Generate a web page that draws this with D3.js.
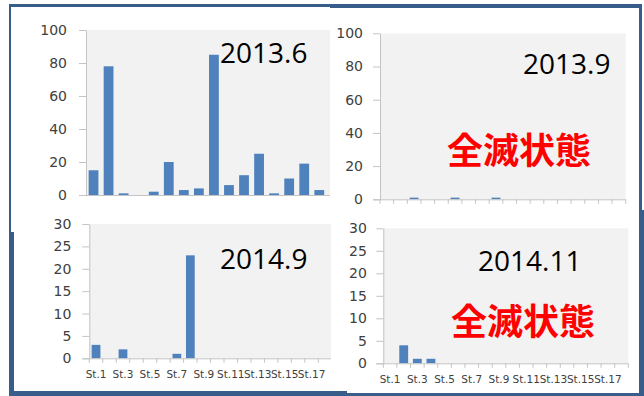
<!DOCTYPE html>
<html>
<head>
<meta charset="utf-8">
<script src="https://cdn.jsdelivr.net/npm/d3@7"></script>
<style>
  html, body { margin: 0; padding: 0; background: #fff; }
  svg { display: block; }
</style>
</head>
<body>
<svg id="chart" width="644" height="396"></svg>
<script>
// Survey stations (categories) and the odd-numbered labels shown on the axis
const stations = d3.range(1, 19).map(i => "St." + i);
const xTickLabels = ["St.1", "St.3", "St.5", "St.7", "St.9", "St.11", "St.13", "St.15", "St.17"];

// Y tick values for the two scales in use
const yTicks100 = [0, 20, 40, 60, 80, 100];
const yTicks30 = [0, 5, 10, 15, 20, 25, 30];

// Counts per station for each survey (null = not shown)
const values2013_6 = [15, 78, 1, 0, 2, 20, 3, 4, 85, 6, 12, 25, 1, 10, 19, 3, null, null];
const values2013_9 = [0, 0, 1, 0, 0, 1, 0, 0, 1, 0, 0, 0, 0, 0, 0, 0, 0, 0];
const values2014_9 = [3, 0, 2, 0, 0, 0, 1, 23, 0, 0, 0, 0, 0, 0, 0, 0, 0, 0];
const values2014_11 = [0, 4, 1, 1, 0, 0, 0, 0, 0, 0, 0, 0, 0, 0, 0, 0, 0, 0];

const surveyTitles = ["2013.6", "2013.9", "2014.9", "2014.11"];
const statusText = "全滅状態";

const BAR = "#4F81BD", PLOT_BG = "#F2F2F2", AXIS = "#C4C4C4", TEXT = "#404040";
const FRAME = "#385D8A";

const svg = d3.select("#chart");

// ---- outer frame -------------------------------------------------------
svg.append("rect").attr("x", 9).attr("y", 4).attr("width", 633).attr("height", 392).attr("fill", FRAME);
svg.append("rect").attr("x", 642).attr("y", 210).attr("width", 2).attr("height", 186).attr("fill", FRAME);
svg.append("rect").attr("x", 11).attr("y", 7).attr("width", 628).attr("height", 384).attr("fill", "#fff");
svg.append("rect").attr("x", 11).attr("y", 232).attr("width", 3).attr("height", 159).attr("fill", FRAME);
svg.append("rect").attr("x", 330).attr("y", 7).attr("width", 309).attr("height", 1).attr("fill", FRAME);
svg.append("rect").attr("x", 347).attr("y", 391).attr("width", 292).attr("height", 2).attr("fill", "#fff");

// ---- panel layout ------------------------------------------------------
const panels = [
  { title: surveyTitles[0], values: values2013_6, yMax: 100, yTicks: yTicks100,
    left: 86, right: 356.9, top: 30, bottom: 195, clip: [11, 7, 319, 225], pad: 12,
    xLabels: false, xMarks: false, titleX: 220, titleY: 63, status: null },
  { title: surveyTitles[1], values: values2013_9, yMax: 100, yTicks: yTicks100,
    left: 380, right: 625.7, top: 33.3, bottom: 199.3, clip: [330, 8, 309, 207], pad: 10,
    xLabels: false, xMarks: true, titleX: 523, titleY: 74, status: [519, 164] },
  { title: surveyTitles[2], values: values2014_9, yMax: 30, yTicks: yTicks30,
    left: 89.3, right: 331.8, top: 224, bottom: 358.3, clip: [14, 212, 317, 179], pad: 11,
    xLabels: true, xMarks: true, titleX: 220, titleY: 269, status: null },
  { title: surveyTitles[3], values: values2014_11, yMax: 30, yTicks: yTicks30,
    left: 383.3, right: 628.3, top: 228.3, bottom: 363.3, clip: [331, 212, 308, 181], pad: 9.5,
    xLabels: true, xMarks: true, titleX: 478, titleY: 271, status: [523, 335] }
];

const defs = svg.append("defs");

panels.forEach((p, i) => {
  defs.append("clipPath").attr("id", "clip" + i)
    .append("rect").attr("x", p.clip[0]).attr("y", p.clip[1])
    .attr("width", p.clip[2]).attr("height", p.clip[3]);

  const g = svg.append("g").attr("clip-path", `url(#clip${i})`);

  const x = d3.scaleBand().domain(stations).range([p.left, p.right])
    .paddingInner(0.35).paddingOuter(0.175);
  const y = d3.scaleLinear().domain([0, p.yMax]).range([p.bottom, p.top]);

  // plot area
  g.append("rect").attr("x", p.left).attr("y", p.top)
    .attr("width", p.right - p.left).attr("height", p.bottom - p.top)
    .attr("fill", PLOT_BG);

  // bars
  const rows = stations.map((s, k) => ({ s, v: p.values[k] })).filter(d => d.v != null && d.v > 0);
  g.selectAll("rect.bar").data(rows).join("rect").attr("class", "bar")
    .attr("x", d => x(d.s)).attr("width", x.bandwidth())
    .attr("y", d => y(d.v)).attr("height", d => y(0) - y(d.v))
    .attr("fill", BAR);

  // y axis
  const ya = g.append("g").attr("transform", `translate(${p.left},0)`)
    .call(d3.axisLeft(y).tickValues(p.yTicks).tickSize(7).tickSizeOuter(0).tickPadding(p.pad));
  ya.select(".domain").attr("stroke", AXIS);
  ya.selectAll(".tick line").attr("stroke", AXIS);
  ya.selectAll(".tick text").attr("fill", TEXT)
    .style("font-family", "'DejaVu Sans', Verdana, sans-serif").style("font-size", "14px");

  // x axis baseline
  g.append("line").attr("x1", p.left - 7).attr("x2", p.right)
    .attr("y1", p.bottom + 0.5).attr("y2", p.bottom + 0.5).attr("stroke", AXIS);

  // category boundary tick marks
  if (p.xMarks) {
    const step = x.step();
    const bounds = stations.map(s => x(s) - step * 0.175).concat([p.right]);
    g.selectAll("line.xt").data(bounds).join("line").attr("class", "xt")
      .attr("x1", d => d).attr("x2", d => d)
      .attr("y1", p.bottom).attr("y2", p.bottom + 4.5).attr("stroke", AXIS);
  }

  // category labels
  if (p.xLabels) {
    g.selectAll("text.xl").data(xTickLabels).join("text").attr("class", "xl")
      .attr("x", d => x(d) + x.bandwidth() / 2).attr("y", p.bottom + 19.3)
      .attr("text-anchor", "middle").attr("fill", TEXT)
      .style("font-family", "'DejaVu Sans', Verdana, sans-serif").style("font-size", "10.5px")
      .text(d => d);
  }

  // survey date
  g.append("text").attr("x", p.titleX).attr("y", p.titleY)
    .attr("fill", "#000").style("font-family", "'Open Sans', sans-serif")
    .style("font-size", "28px").text(p.title);

  // status note
  if (p.status) {
    g.append("text").attr("x", p.status[0]).attr("y", p.status[1])
      .attr("text-anchor", "middle").attr("fill", "#FF0000")
      .style("font-family", "'Noto Sans CJK JP', sans-serif")
      .style("font-weight", "bold").style("font-size", "36px")
      .text(statusText);
  }
});
</script>
</body>
</html>
